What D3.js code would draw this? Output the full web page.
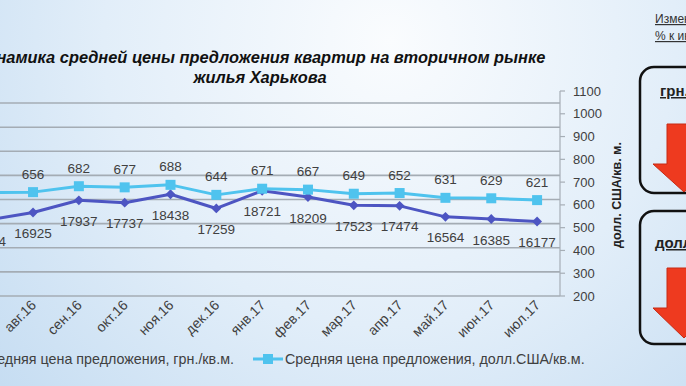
<!DOCTYPE html>
<html>
<head>
<meta charset="utf-8">
<script src="https://cdn.jsdelivr.net/npm/d3@7"></script>
<style>
  html, body { margin: 0; padding: 0; overflow: hidden; }
  svg { display: block; }
  text { font-family: "Liberation Sans", Arial, sans-serif; }
</style>
</head>
<body>
<svg id="chart"></svg>
<script>
const months = ["июл.16", "авг.16", "сен.16", "окт.16", "ноя.16", "дек.16", "янв.17", "фев.17", "мар.17", "апр.17", "май.17", "июн.17", "июл.17"];
const priceUah = [16284, 16925, 17937, 17737, 18438, 17259, 18721, 18209, 17523, 17474, 16564, 16385, 16177];
const priceUsd = [654, 656, 682, 677, 688, 644, 671, 667, 649, 652, 631, 629, 621];
const usdTicks = [200, 300, 400, 500, 600, 700, 800, 900, 1000, 1100];
const uahGrid = [10000, 12000, 14000, 16000, 18000, 20000, 22000, 24000, 26000];
const seriesNames = ["Средняя цена предложения, грн./кв.м.", "Средняя цена предложения, долл.США/кв.м."];

let width = 686, height = 386;
let plot = { left: -35.7, right: 560, top: 91, bottom: 296 };
const dark = "#4d55c2", light = "#4fc3ee", txt = "#404040";

let svg = d3.select("#chart").attr("width", width).attr("height", height);

// фон слайда
let defs = svg.append("defs");
let grad = defs.append("radialGradient").attr("id", "bg")
  .attr("gradientUnits", "userSpaceOnUse")
  .attr("cx", 390).attr("cy", 40).attr("r", 520);
grad.append("stop").attr("offset", "0").attr("stop-color", "#fafcfe");
grad.append("stop").attr("offset", "0.55").attr("stop-color", "#e2eef9");
grad.append("stop").attr("offset", "1").attr("stop-color", "#c6ddf2");
svg.append("rect").attr("width", width).attr("height", height).attr("fill", "url(#bg)");

// заголовок
let title = svg.append("text")
  .attr("text-anchor", "middle")
  .attr("font-weight", "bold").attr("font-style", "italic")
  .attr("font-size", "16.4px").attr("fill", "#111");
title.append("tspan").attr("x", 260).attr("y", 63).text("Динамика средней цены предложения квартир на вторичном рынке");
title.append("tspan").attr("x", 260).attr("y", 83).text("жилья Харькова");

let x = d3.scaleBand().domain(months).range([plot.left, plot.right]);
let cx = d => x(d) + x.bandwidth() / 2;
let yL = d3.scaleLinear().domain([10000, 27000]).range([plot.bottom, plot.top]);
let yR = d3.scaleLinear().domain([200, 1100]).range([plot.bottom, plot.top]);

// сетка по левой (скрытой) оси
svg.append("g").selectAll("line")
  .data(uahGrid)
  .enter()
  .append("line")
  .attr("x1", plot.left).attr("x2", plot.right)
  .attr("y1", d => yL(d)).attr("y2", d => yL(d))
  .attr("stroke", "#a4acb4").attr("stroke-width", 1.6);

// правая ось
let gR = svg.append("g").attr("transform", `translate(${plot.right},0)`);
gR.append("line").attr("y1", plot.top).attr("y2", plot.bottom)
  .attr("stroke", "#a6aeb6").attr("stroke-width", 1.2);
gR.selectAll(".tk").data(usdTicks).enter().append("line")
  .attr("x1", 0).attr("x2", 5)
  .attr("y1", d => yR(d)).attr("y2", d => yR(d))
  .attr("stroke", "#a6aeb6").attr("stroke-width", 1.2);
gR.selectAll("text").data(usdTicks).enter().append("text")
  .attr("x", 13).attr("y", d => yR(d) + 4.5)
  .attr("font-size", "13px").attr("fill", txt)
  .text(d => d);

svg.append("text")
  .attr("transform", "translate(621,195) rotate(-90)")
  .attr("text-anchor", "middle")
  .attr("font-size", "12.5px").attr("font-weight", "bold").attr("fill", "#222")
  .text("долл. США/кв. м.");

// подписи месяцев
svg.append("g").selectAll("text")
  .data(months)
  .enter()
  .append("text")
  .attr("transform", d => `translate(${cx(d) + 4},306) rotate(-45)`)
  .attr("text-anchor", "end")
  .attr("font-size", "14px").attr("fill", txt)
  .text(d => d);

// линии
let uahPts = months.map((m, i) => [cx(m), yL(priceUah[i])]);
let usdPts = months.map((m, i) => [cx(m), yR(priceUsd[i])]);
let line = d3.line();

svg.append("path").attr("d", line(uahPts))
  .attr("fill", "none").attr("stroke", dark).attr("stroke-width", 3).attr("stroke-linejoin", "round");
svg.append("path").attr("d", line(usdPts))
  .attr("fill", "none").attr("stroke", light).attr("stroke-width", 3).attr("stroke-linejoin", "round");

svg.append("g").selectAll("path")
  .data(uahPts)
  .enter()
  .append("path")
  .attr("transform", d => `translate(${d[0]},${d[1]}) rotate(45)`)
  .attr("d", d3.symbol().type(d3.symbolSquare).size(48))
  .attr("fill", dark);

svg.append("g").selectAll("rect")
  .data(usdPts)
  .enter()
  .append("rect")
  .attr("x", d => d[0] - 5).attr("y", d => d[1] - 5)
  .attr("width", 10).attr("height", 10)
  .attr("fill", light);

// подписи значений
svg.append("g").selectAll("text")
  .data(uahPts)
  .enter()
  .append("text")
  .attr("x", d => d[0]).attr("y", d => d[1] + 25.5)
  .attr("text-anchor", "middle")
  .attr("font-size", "13.5px").attr("fill", txt)
  .text((d, i) => priceUah[i]);

svg.append("g").selectAll("text")
  .data(usdPts)
  .enter()
  .append("text")
  .attr("x", d => d[0]).attr("y", d => d[1] - 13.5)
  .attr("text-anchor", "middle")
  .attr("font-size", "13.5px").attr("fill", txt)
  .text((d, i) => priceUsd[i]);

// легенда
let gLeg = svg.append("g").attr("transform", "translate(0,359)");
gLeg.append("text").attr("x", 234).attr("y", 5)
  .attr("text-anchor", "end")
  .attr("font-size", "14.3px").attr("fill", txt)
  .text(seriesNames[0]);
gLeg.append("line").attr("x1", 253).attr("x2", 283)
  .attr("stroke", light).attr("stroke-width", 3);
gLeg.append("rect").attr("x", 263).attr("y", -5).attr("width", 10).attr("height", 10).attr("fill", light);
gLeg.append("text").attr("x", 285).attr("y", 5)
  .attr("font-size", "14.3px").attr("fill", txt)
  .text(seriesNames[1]);

// правая панель
let side = svg.append("g");
side.append("text").attr("x", 655).attr("y", 23)
  .attr("font-size", "12px").attr("fill", "#333").attr("text-decoration", "underline")
  .text("Изменение,");
side.append("text").attr("x", 655).attr("y", 40)
  .attr("font-size", "12px").attr("fill", "#333").attr("text-decoration", "underline")
  .text("% к июл.16");

[[67, 126], [211, 133]].forEach(([top, h]) => {
  side.append("rect").attr("x", 640).attr("y", top).attr("width", 80).attr("height", h)
    .attr("rx", 14).attr("fill", "none").attr("stroke", "#111").attr("stroke-width", 2.5);
});
side.append("text").attr("x", 660).attr("y", 96)
  .attr("font-size", "15px").attr("font-weight", "bold").attr("fill", "#222").attr("text-decoration", "underline")
  .text("грн./кв.м.");
side.append("text").attr("x", 655).attr("y", 248)
  .attr("font-size", "15px").attr("font-weight", "bold").attr("fill", "#222").attr("text-decoration", "underline")
  .text("долл./кв.м.");

const arrow = (c, y0, y1, y2) =>
  `M${c - 17},${y0}H${c + 17}V${y1}H${c + 31}L${c},${y2}L${c - 31},${y1}H${c - 17}Z`;
side.append("path").attr("d", arrow(684, 124, 164, 192))
  .attr("fill", "#ee3a1f").attr("stroke", "#c62a14").attr("stroke-width", 1);
side.append("path").attr("d", arrow(684, 268, 308, 338))
  .attr("fill", "#ee3a1f").attr("stroke", "#c62a14").attr("stroke-width", 1);
</script>
</body>
</html>
